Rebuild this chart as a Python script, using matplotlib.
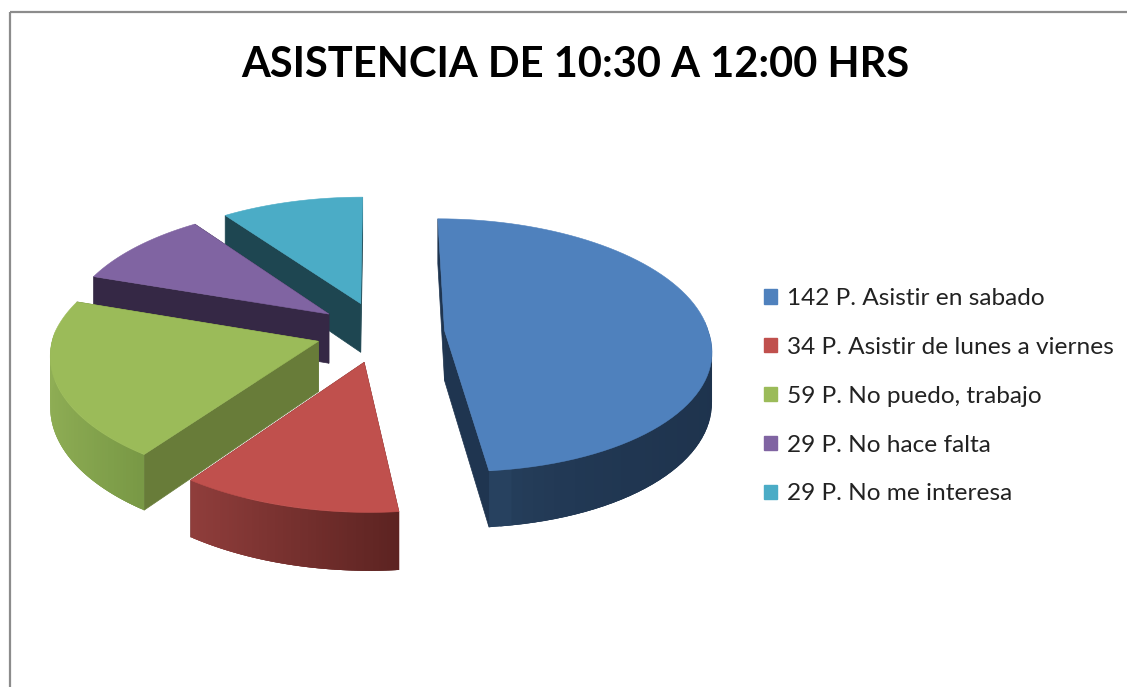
# Asistencia de 10:30 a 12:00 hrs - exploded 3D pie, drawn by hand since matplotlib has no such pie
import numpy as np
import matplotlib
matplotlib.use('Agg')
import matplotlib.pyplot as plt
from matplotlib.patches import Patch, Rectangle

# Data
respuestas = ['Asistir en sabado', 'Asistir de lunes a viernes', 'No puedo, trabajo',
              'No hace falta', 'No me interesa']
personas = [142, 34, 59, 29, 29]
titulo = 'ASISTENCIA DE 10:30 A 12:00 HRS'

# Colours: top face, radial face, wall left, wall right
top_colors = ['#4F81BD', '#C0504D', '#9BBB59', '#8064A2', '#4BACC6']
face_colors = ['#1F3550', '#6E2A28', '#687C39', '#352845', '#1E4651']
wall_left = ['#27415F', '#8F3D3B', '#8FAE55', '#3A2C4C', '#24505C']
wall_right = ['#1E334D', '#5C2321', '#789845', '#352845', '#1E4651']
wall_curve = [0.4, 1.0, 1.0, 1.0, 1.0]

# Projection settings (pixels)
CX, CY = 380, 332
RX, RY = 264, 125
PERSP = 0.116
SKEW = 7.5
EXPLODE = 0.245
DEPTH = 50
z_order = {0: 6, 1: 5, 2: 4, 3: 3, 4: 2}


def project(x, y, z=0.0):
    s = 1.0 / (1.0 - PERSP * y)
    return CX + RX * x * s + SKEW * np.maximum(y, 0), CY + RY * y * s + DEPTH * z * s


def blend(c1, c2, t):
    a = np.array(matplotlib.colors.to_rgb(c1))
    b = np.array(matplotlib.colors.to_rgb(c2))
    return tuple(a + (b - a) * t)


def draw_slice(ax, start, end, i):
    mid = (start + end) / 2
    ox, oy = EXPLODE * np.sin(mid), -EXPLODE * np.cos(mid)
    th = np.linspace(start, end, 80)
    ex, ey = ox + np.sin(th), oy - np.cos(th)

    # radial faces
    for k in [0, -1]:
        xs = [ox, ex[k], ex[k], ox]
        ys = [oy, ey[k], ey[k], oy]
        zs = [0, 0, 1, 1]
        px, py = zip(*[project(a, b, c) for a, b, c in zip(xs, ys, zs)])
        ax.fill(px, py, color=face_colors[i], lw=0.5, zorder=z_order[i])

    # outer wall, only the part that faces the viewer
    # each piece overlaps the next one so no seams show up
    front = np.where(ey[:-1] > oy - 0.05)[0]
    for j in front:
        t = (ex[j] - ex[front].min()) / max(np.ptp(ex[front]), 1e-6)
        lo, hi = max(j - 1, 0), min(j + 2, len(ex) - 1)
        xs = [ex[lo], ex[hi], ex[hi], ex[lo]]
        ys = [ey[lo], ey[hi], ey[hi], ey[lo]]
        zs = [0, 0, 1, 1]
        px, py = zip(*[project(a, b, c) for a, b, c in zip(xs, ys, zs)])
        ax.fill(px, py, color=blend(wall_left[i], wall_right[i], t ** wall_curve[i]), lw=0,
                zorder=z_order[i])

    # top face
    px, py = project(np.r_[ox, ex], np.r_[oy, ey])
    ax.fill(px, py, color=top_colors[i], lw=0.4, zorder=z_order[i] + 0.5)


fig = plt.figure(figsize=(11.27, 6.87), dpi=100)
ax = fig.add_axes([0, 0, 1, 1])
ax.set_xlim(0, 1127)
ax.set_ylim(687, 0)
ax.axis('off')

# Chart frame, runs off the right and bottom of the picture
ax.add_patch(Rectangle((9.5, 11.5), 1300, 900, fill=False, ec='#8C8C8C', lw=1.6))

# Back slices first
total = sum(personas)
edges = np.r_[0, np.cumsum(personas)] / total * 2 * np.pi
for i in [4, 3, 2, 1, 0]:
    draw_slice(ax, edges[i], edges[i + 1], i)

ax.text(575, 65, titulo, ha='center', va='center', fontsize=30, fontweight='bold',
        family='Lato', color='black')

handles = [Patch(color=c) for c in top_colors]
labels = ['%d P. %s' % (p, r) for p, r in zip(personas, respuestas)]
leg = ax.legend(handles, labels, loc='upper left', bbox_to_anchor=(764 / 1127, 1 - 288 / 687),
                frameon=False, prop={'family': 'Lato', 'size': 17.6}, labelcolor='#222222',
                handlelength=0.53, handleheight=0.53, handletextpad=0.40,
                labelspacing=1.14, borderpad=0, borderaxespad=0)

plt.savefig('out.png', dpi=100)
